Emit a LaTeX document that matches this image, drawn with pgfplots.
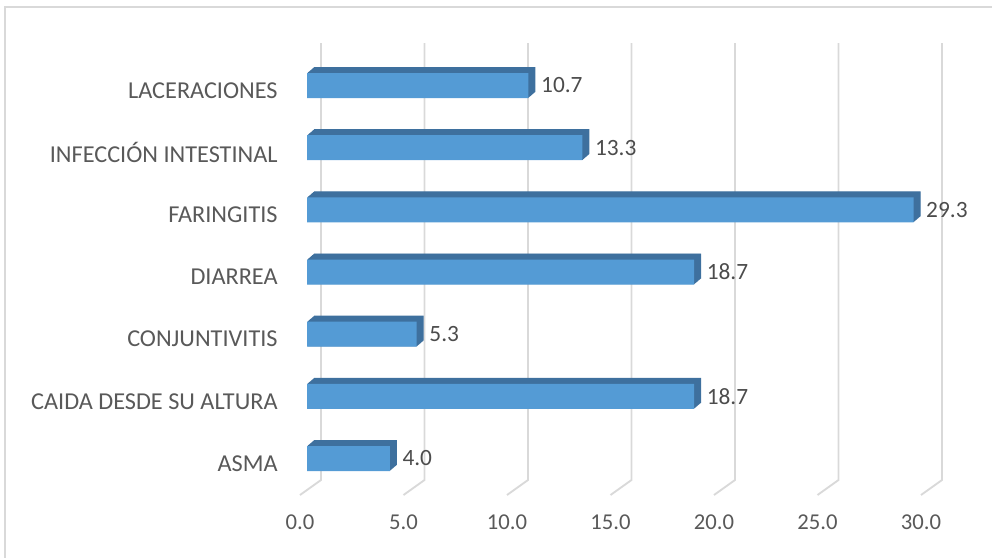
\documentclass[border=0pt]{standalone}
\usepackage{pgfplots}
\usepackage{pgfplotstable}
\pgfplotsset{compat=1.18}
\usepackage{fontspec}
\setmainfont{Carlito}
\definecolor{barfront}{RGB}{84,155,213}
\definecolor{bartop}{RGB}{62,112,158}
\definecolor{gridc}{RGB}{217,217,217}
\definecolor{txt}{RGB}{89,89,89}
\pgfplotstableread{
v  c
4.0  0
18.7 1
5.3  2
18.7 3
29.3 4
13.3 5
10.7 6
}\datatable
\begin{document}
\begin{tikzpicture}
\begin{scope}[x=0.75pt,y=-0.75pt]
\path[use as bounding box] (0,0) rectangle (992,557);
\draw[gridc, line width=1.5pt] (5,570) -- (5,7) -- (1000,7);
\foreach \k in {0,...,6} {
  \draw[gridc, line width=1.4pt] ({300+103.5*\k},495) -- ++(21,-15) -- ({321+103.5*\k},43);
}
\end{scope}
\begin{axis}[
  at={(300*0.75pt,-495*0.75pt)}, anchor=south west,
  scale only axis, width=621*0.75pt, height=455*0.75pt,
  xmin=0, xmax=30, ymin=-0.587, ymax=6.732,
  axis line style={draw=none}, tick style={draw=none},
  xtick={0,5,...,30},
  xticklabel={\pgfmathprintnumber[fixed,fixed zerofill,precision=1]{\tick}},
  ytick={0,...,6},
  yticklabels={ASMA, CAIDA DESDE SU ALTURA, CONJUNTIVITIS, DIARREA, FARINGITIS, INFECCIÓN INTESTINAL, LACERACIONES},
  ticklabel style={font=\fontsize{17}{20}\selectfont, text=txt},
  xticklabel style={yshift=-11pt},
  yticklabel style={font=\fontsize{18.2}{21}\selectfont, xshift=-9pt, yshift=-3.75pt},
  /pgf/number format/assume math mode=true,
  clip=false,
  xbar, bar width=25*0.75pt, bar shift=0pt,
]
\pgfplotsinvokeforeach{7,6.5,6,5.5,5,4.5,4,3.5,3,2.5,2,1.5,1,0.5}{
\addplot[fill=bartop, draw=none, bar shift=0pt, xshift={(7+#1)*0.75pt}, yshift={#1*6/7*0.75pt}]
  table[x=v, y=c] {\datatable};
}
\addplot[fill=barfront, draw=none, bar shift=0pt, xshift=7*0.75pt,
  point meta=x,
  nodes near coords={\pgfmathprintnumber[fixed,fixed zerofill,precision=1]{\pgfplotspointmeta}},
  nodes near coords align=horizontal,
  every node near coord/.append style={font=\fontsize{17.5}{20}\selectfont, text=txt!85!black, anchor=west, xshift=6pt}]
  table[x=v, y=c] {\datatable};
\end{axis}
\end{tikzpicture}
\end{document}
